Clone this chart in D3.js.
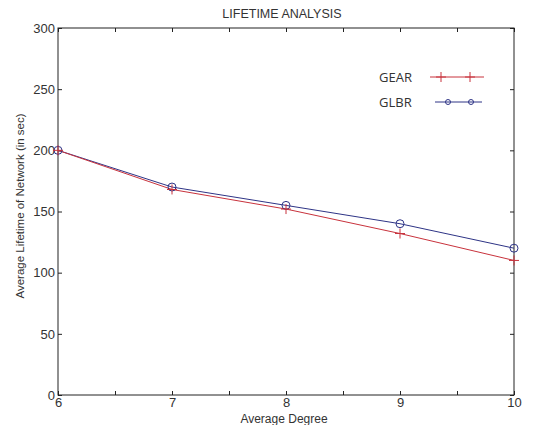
<!DOCTYPE html>
<html>
<head>
<meta charset="utf-8">
<script src="https://cdn.jsdelivr.net/npm/d3@7"></script>
<style>
  body { margin: 0; background: #fff; }
  text { font-family: "Liberation Sans", Arial, sans-serif; }
</style>
</head>
<body>
<script>
// chart data
const degrees = [6, 7, 8, 9, 10];
const gearValues = [200, 168, 152, 132, 110];
const glbrValues = [200, 170, 155, 140, 120];
const xTicks = [6, 6.5, 7, 7.5, 8, 8.5, 9, 9.5, 10];
const yTicks = [0, 50, 100, 150, 200, 250, 300];

(function() {
  const width = 552, height = 425;
  const plotLeft = 58, plotRight = 514, plotTop = 28, plotBottom = 395;

  const svg = d3.select('body').append('svg')
    .attr('width', width)
    .attr('height', height);

  const x = d3.scaleLinear().domain([6, 10]).range([plotLeft, plotRight]);
  const y = d3.scaleLinear().domain([0, 300]).range([plotBottom, plotTop]);

  // frame
  svg.append('rect')
    .attr('x', plotLeft).attr('y', plotTop)
    .attr('width', plotRight - plotLeft).attr('height', plotBottom - plotTop)
    .attr('fill', 'none').attr('stroke', '#222').attr('stroke-width', 1);

  // inward ticks on all four sides
  const tickLen = 4;
  const fmt = (d) => Number.isInteger(d) ? d : '';

  svg.append('g').attr('transform', `translate(0,${plotBottom})`)
    .call(d3.axisBottom(x).tickValues(xTicks).tickSize(-tickLen).tickPadding(3).tickFormat(fmt))
    .call(g => g.select('.domain').remove());
  svg.append('g').attr('transform', `translate(0,${plotTop})`)
    .call(d3.axisTop(x).tickValues(xTicks).tickSize(-tickLen).tickFormat(''))
    .call(g => g.select('.domain').remove());
  svg.append('g').attr('transform', `translate(${plotLeft},0)`)
    .call(d3.axisLeft(y).tickValues(yTicks).tickSize(-tickLen).tickPadding(3))
    .call(g => g.select('.domain').remove());
  svg.append('g').attr('transform', `translate(${plotRight},0)`)
    .call(d3.axisRight(y).tickValues(yTicks).tickSize(-tickLen).tickFormat(''))
    .call(g => g.select('.domain').remove());

  svg.selectAll('.tick line').attr('stroke', '#222');
  svg.selectAll('.tick text')
    .attr('fill', '#333')
    .style('font-size', '13px')
    .style('font-family', '"Liberation Sans", Arial, sans-serif');

  // labels
  svg.append('text')
    .attr('x', 282).attr('y', 18)
    .attr('text-anchor', 'middle')
    .style('font-size', '12.5px')
    .attr('fill', '#333')
    .text('LIFETIME ANALYSIS');

  svg.append('text')
    .attr('x', 284).attr('y', 423)
    .attr('text-anchor', 'middle')
    .style('font-size', '12px')
    .attr('fill', '#333')
    .text('Average Degree');

  svg.append('text')
    .attr('transform', `translate(24, 206) rotate(-90)`)
    .attr('text-anchor', 'middle')
    .style('font-size', '11.5px')
    .attr('fill', '#333')
    .text('Average Lifetime of Network (in sec)');

  // series
  const gearColor = '#c8323c';
  const glbrColor = '#2e3486';
  const line = d3.line().x((d, i) => x(degrees[i])).y(d => y(d));

  svg.append('path').datum(glbrValues)
    .attr('d', line).attr('fill', 'none')
    .attr('stroke', glbrColor).attr('stroke-width', 1);
  svg.append('path').datum(gearValues)
    .attr('d', line).attr('fill', 'none')
    .attr('stroke', gearColor).attr('stroke-width', 1);

  function plusMarker(g, cx, cy, color) {
    g.append('path')
      .attr('d', `M${cx - 5},${cy}H${cx + 5}M${cx},${cy - 5}V${cy + 5}`)
      .attr('stroke', color).attr('stroke-width', 1);
  }
  function circleMarker(g, cx, cy, color, r) {
    g.append('circle')
      .attr('cx', cx).attr('cy', cy).attr('r', r || 4)
      .attr('fill', 'none')
      .attr('stroke', color).attr('stroke-width', 1);
  }

  const marks = svg.append('g');
  glbrValues.forEach((v, i) => circleMarker(marks, x(degrees[i]), y(v), glbrColor));
  gearValues.forEach((v, i) => plusMarker(marks, x(degrees[i]), y(v), gearColor));

  // legend
  const legend = svg.append('g');
  const legendItems = [
    { name: 'GEAR', color: gearColor, kind: 'plus', yy: 77, x1: 430, x2: 484, m: [441, 470] },
    { name: 'GLBR', color: glbrColor, kind: 'circle', yy: 102, x1: 435, x2: 482, m: [448, 471] }
  ];
  legendItems.forEach(it => {
    legend.append('text')
      .attr('x', 379).attr('y', it.yy + 5)
      .style('font-family', '"Open Sans", "DejaVu Sans", sans-serif')
      .style('font-size', '13px')
      .attr('fill', '#333')
      .text(it.name);
    legend.append('line')
      .attr('x1', it.x1).attr('x2', it.x2)
      .attr('y1', it.yy).attr('y2', it.yy)
      .attr('stroke', it.color).attr('stroke-width', 1);
    it.m.forEach(mx => {
      if (it.kind === 'circle') circleMarker(legend, mx, it.yy, it.color, 2.5);
      else plusMarker(legend, mx, it.yy, it.color);
    });
  });
})();
</script>
</body>
</html>
